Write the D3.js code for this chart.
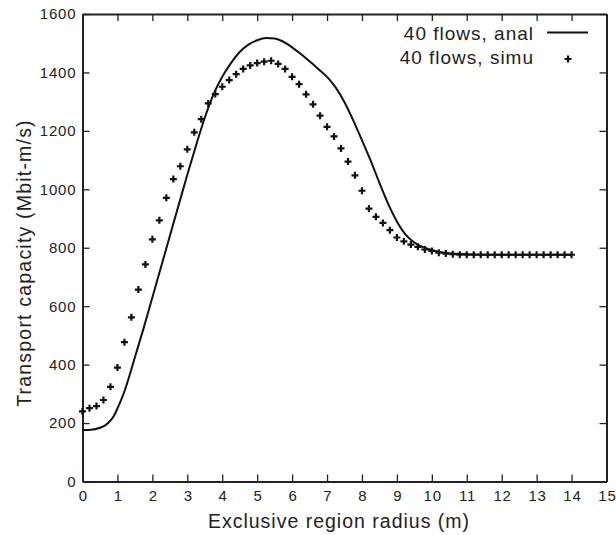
<!DOCTYPE html>
<html>
<head>
<meta charset="utf-8">
<script src="https://cdn.jsdelivr.net/npm/d3@7"></script>
<style>
  body { margin: 0; background: #fff; }
  svg { font-family: "Liberation Sans", Arial, sans-serif; }
  .axis text { font-size: 15px; letter-spacing: 0.8px; fill: #222; }
  .axis path, .axis line { stroke: #222; }
</style>
</head>
<body>
<div id="chart"></div>
<script>
// analytic curve
const analX = [0, 0.25, 0.5, 0.65, 0.8, 0.9, 1.0, 1.1, 1.2, 1.3, 1.5, 1.75, 2.0, 2.25, 2.5, 2.75, 3.0, 3.25, 3.5, 3.75, 4.0, 4.25, 4.5, 4.75, 5.0, 5.25, 5.5, 5.75, 6.0, 6.25, 6.5, 6.75, 7.0, 7.25, 7.5, 7.75, 8.0, 8.25, 8.5, 8.75, 9.0, 9.25, 9.5, 9.75, 10.0, 10.25, 10.5, 11, 12, 13, 14];
const analY = [176, 177, 184, 192, 208, 225, 250, 278, 308, 345, 425, 525, 630, 735, 840, 945, 1050, 1150, 1245, 1325, 1385, 1432, 1470, 1495, 1510, 1518, 1516, 1505, 1486, 1463, 1438, 1412, 1385, 1348, 1298, 1236, 1168, 1098, 1022, 950, 890, 845, 818, 802, 792, 785, 781, 778, 776, 776, 776];

// simulation points
const simX = [0, 0.2, 0.4, 0.6, 0.8, 1.0, 1.2, 1.4, 1.6, 1.8, 2.0, 2.2, 2.4, 2.6, 2.8, 3.0, 3.2, 3.4, 3.6, 3.8,
              4.0, 4.2, 4.4, 4.6, 4.8, 5.0, 5.2, 5.4, 5.6, 5.8, 6.0, 6.2, 6.4, 6.6, 6.8, 7.0, 7.2, 7.4, 7.6, 7.8,
              8.0, 8.2, 8.4, 8.6, 8.8, 9.0, 9.2, 9.4, 9.6, 9.8, 10.0, 10.2, 10.4, 10.6, 10.8, 11.0, 11.2, 11.4, 11.6, 11.8,
              12.0, 12.2, 12.4, 12.6, 12.8, 13.0, 13.2, 13.4, 13.6, 13.8, 14.0];
const simY = [240, 251, 258, 279, 324, 390, 477, 562, 657, 743, 829, 894, 971, 1035, 1079, 1137, 1195, 1240, 1294, 1326,
              1351, 1374, 1394, 1412, 1424, 1432, 1437, 1440, 1429, 1412, 1385, 1360, 1325, 1291, 1252, 1214, 1181, 1140, 1095, 1048,
              995, 934, 906, 885, 860, 835, 822, 811, 803, 794, 789, 783, 780, 778, 776, 776, 776, 776, 776, 776,
              776, 776, 776, 776, 776, 776, 776, 776, 776, 776, 776];

const xTicks = [0, 1, 2, 3, 4, 5, 6, 7, 8, 9, 10, 11, 12, 13, 14, 15];
const yTicks = [0, 200, 400, 600, 800, 1000, 1200, 1400, 1600];
const seriesNames = ["40 flows, anal", "40 flows, simu"];

const W = 616, H = 535;
const margin = {top: 14, right: 9.5, bottom: 53.5, left: 82.5},
      width = W - margin.left - margin.right,
      height = H - margin.top - margin.bottom;

const svg = d3.select("#chart")
  .append("svg")
  .attr("width", W)
  .attr("height", H);

const g = svg.append("g")
  .attr("transform", `translate(${margin.left},${margin.top})`);

const x = d3.scaleLinear().domain([0, 15]).range([0, width]);
const y = d3.scaleLinear().domain([0, 1600]).range([height, 0]);

// axes, ticks pointing inward
g.append("g")
  .attr("class", "axis")
  .attr("transform", `translate(0,${height})`)
  .call(d3.axisBottom(x).tickValues(xTicks).tickFormat(d3.format("d")).tickSizeInner(-7).tickSizeOuter(0).tickPadding(9))
  .selectAll("text").attr("dx", "0.4px");

g.append("g")
  .attr("class", "axis")
  .call(d3.axisLeft(y).tickValues(yTicks).tickFormat(d3.format("d")).tickSizeInner(-7).tickSizeOuter(0).tickPadding(7))
  .selectAll("text").attr("dx", "0.8px");

g.append("g")
  .attr("class", "axis")
  .call(d3.axisTop(x).tickValues(xTicks).tickSizeInner(-7).tickSizeOuter(0).tickFormat(""));

g.append("g")
  .attr("class", "axis")
  .attr("transform", `translate(${width},0)`)
  .call(d3.axisRight(y).tickValues(yTicks).tickSizeInner(-7).tickSizeOuter(0).tickFormat(""));

g.selectAll(".axis line").attr("stroke-width", 1.3);
g.selectAll(".axis path").attr("stroke-width", 2);
g.selectAll(".axis text").attr("fill", "#222");

// axis titles
svg.append("text")
  .attr("x", 339)
  .attr("y", 528)
  .attr("text-anchor", "middle")
  .style("font-size", "19.5px")
  .style("letter-spacing", "1px")
  .attr("fill", "#222")
  .text("Exclusive region radius (m)");

svg.append("text")
  .attr("transform", "rotate(-90)")
  .attr("x", -263)
  .attr("y", 31)
  .attr("text-anchor", "middle")
  .style("font-size", "19.5px")
  .style("letter-spacing", "1.2px")
  .attr("fill", "#222")
  .text("Transport capacity (Mbit-m/s)");

// analytic line
const anal = analX.map((v, i) => [v, analY[i]]);
g.append("path")
  .datum(anal)
  .attr("fill", "none")
  .attr("stroke", "#111")
  .attr("stroke-width", 2)
  .attr("d", d3.line().x(d => x(d[0])).y(d => y(d[1])).curve(d3.curveMonotoneX));

// simulation plus markers
const plus = "M-3.5,0H3.5M0,-3.5V3.5";
g.selectAll(".sim")
  .data(simX.map((v, i) => [v, simY[i]]))
  .enter().append("path")
  .attr("class", "sim")
  .attr("transform", d => `translate(${x(d[0])},${y(d[1])})`)
  .attr("d", plus)
  .attr("stroke", "#111")
  .attr("stroke-width", 2.2);

// legend
const legend = svg.append("g")
  .style("font-size", "19px")
  .style("letter-spacing", "1px")
  .attr("fill", "#222");
legend.append("text").attr("x", 534).attr("y", 40).attr("text-anchor", "end").text(seriesNames[0]);
legend.append("text").attr("x", 534).attr("y", 64).attr("text-anchor", "end").text(seriesNames[1]);
legend.append("line")
  .attr("x1", 547).attr("x2", 588).attr("y1", 32.5).attr("y2", 32.5)
  .attr("stroke", "#111").attr("stroke-width", 2);
legend.append("path")
  .attr("transform", "translate(568,59)")
  .attr("d", plus)
  .attr("stroke", "#111").attr("stroke-width", 2.2);
</script>
</body>
</html>
